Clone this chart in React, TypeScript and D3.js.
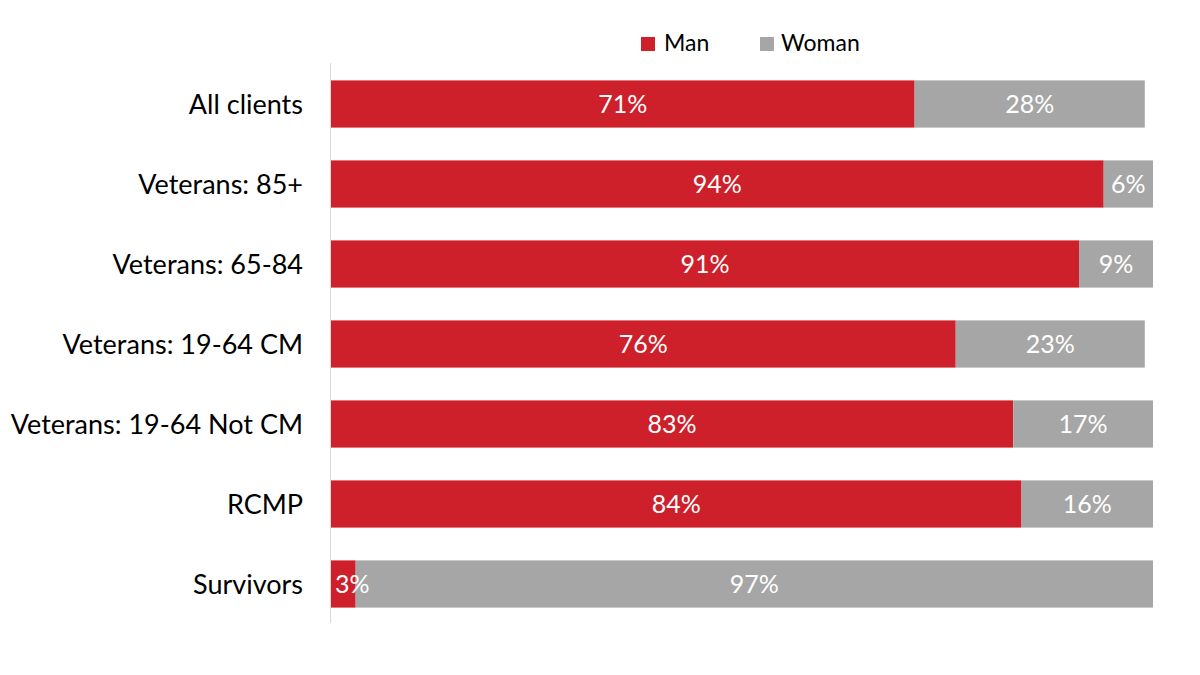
import React from 'react';
import * as d3 from 'd3';

const categories = [
  'All clients',
  'Veterans: 85+',
  'Veterans: 65-84',
  'Veterans: 19-64 CM',
  'Veterans: 19-64 Not CM',
  'RCMP',
  'Survivors',
];
const manValues = [71, 94, 91, 76, 83, 84, 3];
const womanValues = [28, 6, 9, 23, 17, 16, 97];
const seriesNames = ['Man', 'Woman'];
const seriesColors = ['#CE202A', '#A6A6A6'];

const width = 1200;
const height = 675;
const FONT = 'Lato, "Noto Sans", sans-serif';

const App: React.FC = () => {
  const x = d3.scaleLinear().domain([0, 100]).range([331, 1153]);
  const y = d3
    .scaleBand()
    .domain(categories)
    .range([64, 624])
    .paddingInner(0.41)
    .paddingOuter(0.205);
  const bh = y.bandwidth();

  // flat list of stacked segments
  const segs = categories.flatMap((c, i) => [
    { cat: c, key: 'm', v: manValues[i], x0: 0, x1: manValues[i], color: seriesColors[0] },
    {
      cat: c,
      key: 'w',
      v: womanValues[i],
      x0: manValues[i],
      x1: manValues[i] + womanValues[i],
      color: seriesColors[1],
    },
  ]);

  return (
    <svg
      width={width}
      height={height}
      style={{ position: 'absolute', left: 0, top: 0, background: '#fff' }}
      fontFamily={FONT}
    >
      {/* legend */}
      <g>
        <rect x={641} y={37} width={14} height={14} fill={seriesColors[0]} />
        <text x={664} y={51} fontSize={23} fill="#000">{seriesNames[0]}</text>
        <rect x={760} y={37} width={14} height={14} fill={seriesColors[1]} />
        <text x={781} y={51} fontSize={23} fill="#000">{seriesNames[1]}</text>
      </g>

      {/* bars */}
      {segs.map(s => (
        <rect
          key={s.cat + s.key}
          x={x(s.x0)}
          y={y(s.cat) || 0}
          width={x(s.x1) - x(s.x0)}
          height={bh}
          fill={s.color}
        />
      ))}

      {/* value labels */}
      {segs.map(s => (
        <text
          key={'l' + s.cat + s.key}
          x={s.v < 5 ? x(s.x0) + 4 : (x(s.x0) + x(s.x1)) / 2}
          y={(y(s.cat) || 0) + bh / 2}
          dy="0.36em"
          textAnchor={s.v < 5 ? 'start' : 'middle'}
          fontSize={25}
          fill="#fff"
        >
          {s.v}%
        </text>
      ))}

      {/* category labels */}
      {categories.map(c => (
        <text
          key={'c' + c}
          x={303}
          y={(y(c) || 0) + bh / 2}
          dy="0.36em"
          textAnchor="end"
          fontSize={27}
          fill="#000"
        >
          {c}
        </text>
      ))}

      {/* vertical axis line */}
      <line x1={330.5} x2={330.5} y1={63} y2={623} stroke="#D9D9D9" strokeWidth={1} />
    </svg>
  );
};

export default App;
